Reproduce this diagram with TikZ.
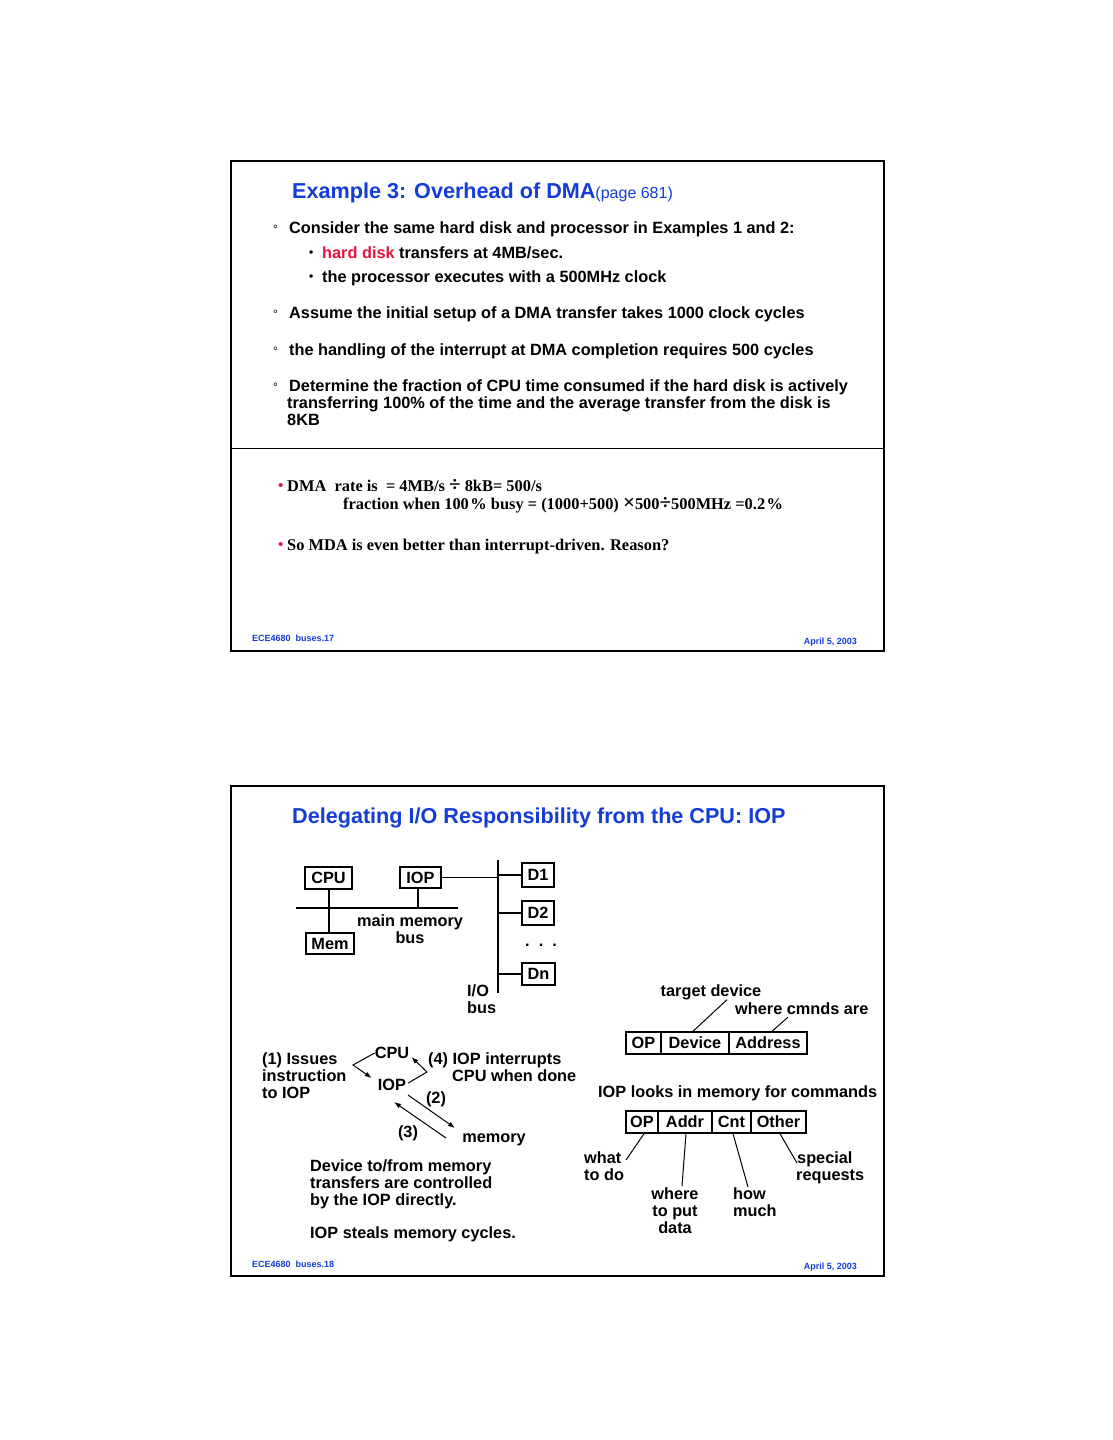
\documentclass[tikz,border=0pt]{standalone}
\usepackage{fontspec}
\setmainfont{Liberation Sans}
\newfontfamily\tms{Liberation Serif}
\usetikzlibrary{arrows.meta}
\definecolor{ttl}{RGB}{20,60,215}
\definecolor{hl}{RGB}{228,20,60}
\newcommand{\bigsym}[1]{{\fontsize{21}{21}\selectfont #1}}
\begin{document}
\begin{tikzpicture}[x=1pt,y=-1pt,
  txt/.style={anchor=base west, inner sep=0pt, font=\fontsize{16.3}{17}\selectfont\bfseries},
  ctxt/.style={anchor=base, inner sep=0pt, font=\fontsize{16.3}{17}\selectfont\bfseries},
  lbl/.style={inner sep=0pt, font=\fontsize{16.3}{17}\selectfont\bfseries},
  ttxt/.style={anchor=base west, inner sep=0pt, font=\fontsize{16.4}{17}\selectfont\tms\bfseries},
  rbul/.style={anchor=base west, inner sep=0pt, text=hl, font=\fontsize{15}{16}\selectfont\tms\bfseries},
  sbul/.style={anchor=base west, inner sep=0pt, font=\fontsize{12}{13}\selectfont\bfseries},
  deg/.style={anchor=base west, inner sep=0pt, font=\fontsize{12}{13}\selectfont},
  title/.style={anchor=base west, inner sep=0pt, text=ttl, font=\fontsize{21.6}{24}\selectfont\bfseries},
  foot/.style={inner sep=0pt, text=ttl, font=\fontsize{9}{10}\selectfont\bfseries},
  frame/.style={line width=2pt},
  box/.style={draw, line width=1.4pt, inner sep=0pt, font=\fontsize{16.3}{17}\selectfont\bfseries},
  fld/.style={box, minimum height=22pt},
  bus/.style={line width=2pt},
  thin/.style={line width=1pt},
  arr/.style={line width=1pt, -{Latex[length=7pt,width=5pt]}}
]
\useasboundingbox (0,0) rectangle (1113,1440);
\fill[white] (0,0) rectangle (1113,1440);

% ---------------- Slide 1 ----------------
\draw[frame] (231,161) rectangle (884,651);
\draw[line width=1pt] (231,448) -- (884,448);

\node[title] (t1) at (292,198) {Example 3: Overhead of DMA{\fontsize{16}{18}\selectfont\mdseries(page 681)}};

\node[deg] (g1) at (273,233) {°};
\node[txt] (l1) at (289,233) {Consider the same hard disk and processor in Examples 1 and 2:};
\node[sbul] (b1) at (309,256) {•};
\node[txt] (l2) at (322,258) {\textcolor{hl}{hard disk} transfers at 4MB/sec.};
\node[sbul] (b2) at (309,280) {•};
\node[txt] (l3) at (322,282) {the processor executes with a 500MHz clock};
\node[deg] (g2) at (273,318) {°};
\node[txt] (l4) at (289,318) {Assume the initial setup of a DMA transfer takes 1000 clock cycles};
\node[deg] (g3) at (273,355) {°};
\node[txt] (l5) at (289,355) {the handling of the interrupt at DMA completion requires 500 cycles};
\node[deg] (g4) at (273,391) {°};
\node[txt] (l6) at (289,391) {Determine the fraction of CPU time consumed if the hard disk is actively};
\node[txt] (l7) at (287,408) {transferring 100\% of the time and the average transfer from the disk is};
\node[txt] (l8) at (287,425) {8KB};

\node[rbul] (rb1) at (278,490) {•};
\node[ttxt] (m1) at (287,491) {DMA\ \ rate is\ \ = 4MB/s \bigsym{÷} 8kB= 500/s};
\node[ttxt] (m2) at (343,509) {fraction when 100\kern1.5pt\% busy = (1000+500) \bigsym{×}500\bigsym{÷}500MHz =0.2\kern1.5pt\%};
\node[rbul] (rb2) at (278,549) {•};
\node[ttxt] (m3) at (287,550) {So MDA is even better than interrupt-driven. Reason?};

\node[foot, anchor=base west] (f1) at (252,641) {ECE4680\ \ buses.17};
\node[foot, anchor=base east] (f2) at (857,644) {April 5, 2003};

% ---------------- Slide 2 ----------------
\draw[frame] (231,786) rectangle (884,1276);
\node[title] (t2) at (292,823) {Delegating I/O Responsibility from the CPU: IOP};

% bus diagram
\node[box, minimum width=47pt, minimum height=22pt] (cpu) at (328.5,878) {CPU};
\node[box, minimum width=41pt, minimum height=21pt] (iop) at (420.5,877.5) {IOP};
\node[box, minimum width=48pt, minimum height=21pt] (mem) at (330,943.5) {Mem};
\node[box, minimum width=32pt, minimum height=24pt] (d1) at (538,875) {D1};
\node[box, minimum width=32pt, minimum height=24pt] (d2) at (538,913) {D2};
\node[box, minimum width=33pt, minimum height=22pt] (dn) at (538.5,974) {Dn};

\coordinate (mbl) at (296,908);
\coordinate (mbr) at (458,908);
\coordinate (iot) at (498,860);
\coordinate (iob) at (498,993);
\draw[bus] (mbl) -- (mbr);
\draw[bus] (iot) -- (iob);
\draw[bus] (cpu.south) -- (cpu.south |- mem.north);
\draw[bus] (iop.south -| 418,0) -- (418,908);
\draw[thin] (iop.east) -- (iop.east -| iot);
\draw[bus] (d1.west) -- (d1.west -| iot);
\draw[bus] (d2.west) -- (d2.west -| iot);
\draw[bus] (dn.west) -- (dn.west -| iot);

\node[ctxt] (mm1) at (410,926) {main memory};
\node[ctxt] (mm2) at (410,943) {bus};
\node[txt] (dots) at (525,946) {.\ \ .\ \ .};
\node[txt] (io1) at (467,996) {I/O};
\node[txt] (io2) at (467,1013) {bus};

% flow diagram
\node[lbl] (cpu2) at (392,1053) {CPU};
\node[lbl] (iop2) at (392,1085) {IOP};
\node[ctxt] (mem2) at (494,1142) {memory};
\coordinate (c1) at (353,1065);
\coordinate (c4) at (427,1072);
\draw[arr] (cpu2.west) -- (c1) -- ([xshift=-6pt,yshift=1pt]iop2.north west);
\draw[arr] ([xshift=2pt,yshift=2pt]iop2.east) -- (c4) -- ([xshift=2pt,yshift=-4pt]cpu2.east);
\coordinate (a2s) at (408,1095);
\coordinate (a2e) at (455,1128);
\coordinate (a3s) at (446,1138);
\coordinate (a3e) at (394,1102);
\draw[arr] (a2s) -- (a2e);
\draw[arr] (a3s) -- (a3e);
\node[ctxt] (n2) at (436,1103) {(2)};
\node[ctxt] (n3) at (408,1137) {(3)};

\node[txt] (s1a) at (262,1064) {(1) Issues};
\node[txt] (s1b) at (262,1081) {instruction};
\node[txt] (s1c) at (262,1098) {to IOP};
\node[txt] (s4a) at (428,1064) {(4) IOP interrupts};
\node[txt] (s4b) at (452,1081) {CPU when done};

\node[txt] (dv1) at (310,1171) {Device to/from memory};
\node[txt] (dv2) at (310,1188) {transfers are controlled};
\node[txt] (dv3) at (310,1205) {by the IOP directly.};
\node[txt] (dv4) at (310,1238) {IOP steals memory cycles.};

% command records
\node[ctxt] (tgt) at (711,996) {target device};
\node[txt] (wc) at (735,1014) {where cmnds are};
\node[fld, minimum width=35pt] (op1) at (643.5,1043) {OP};
\node[fld, minimum width=68pt] (dev) at (695,1043) {Device};
\node[fld, minimum width=78pt] (adr) at (768,1043) {Address};
\draw[thin] ([xshift=16pt]tgt.south) -- ([xshift=-2pt]dev.north);
\draw[thin] ([xshift=-14pt,yshift=-3pt]wc.south) -- ([xshift=4pt]adr.north);

\node[txt] (look) at (598,1097) {IOP looks in memory for commands};
\node[fld, minimum width=32pt] (op2) at (642,1122) {OP};
\node[fld, minimum width=54pt] (ad2) at (685,1122) {Addr};
\node[fld, minimum width=39pt] (cnt) at (731.5,1122) {Cnt};
\node[fld, minimum width=55pt] (oth) at (778.5,1122) {Other};

\node[txt] (wt1) at (584,1163) {what};
\node[txt] (wt2) at (584,1180) {to do};
\node[ctxt] (wp1) at (675,1199) {where};
\node[ctxt] (wp2) at (675,1216) {to put};
\node[ctxt] (wp3) at (675,1233) {data};
\node[txt] (hm1) at (733,1199) {how};
\node[txt] (hm2) at (733,1216) {much};
\node[txt] (sr1) at (797,1163) {special};
\node[txt] (sr2) at (796,1180) {requests};

\coordinate (e1) at (626,1160);
\coordinate (e2) at (682,1186);
\coordinate (e3) at (748,1187);
\coordinate (e4) at (797,1163);
\draw[thin] ([xshift=2pt]op2.south) -- (e1);
\draw[thin] ([xshift=1pt]ad2.south) -- (e2);
\draw[thin] ([xshift=1.5pt]cnt.south) -- (e3);
\draw[thin] ([xshift=1.5pt]oth.south) -- (e4);

\node[foot, anchor=base west] (f3) at (252,1267) {ECE4680\ \ buses.18};
\node[foot, anchor=base east] (f4) at (857,1269) {April 5, 2003};
\end{tikzpicture}
\end{document}
